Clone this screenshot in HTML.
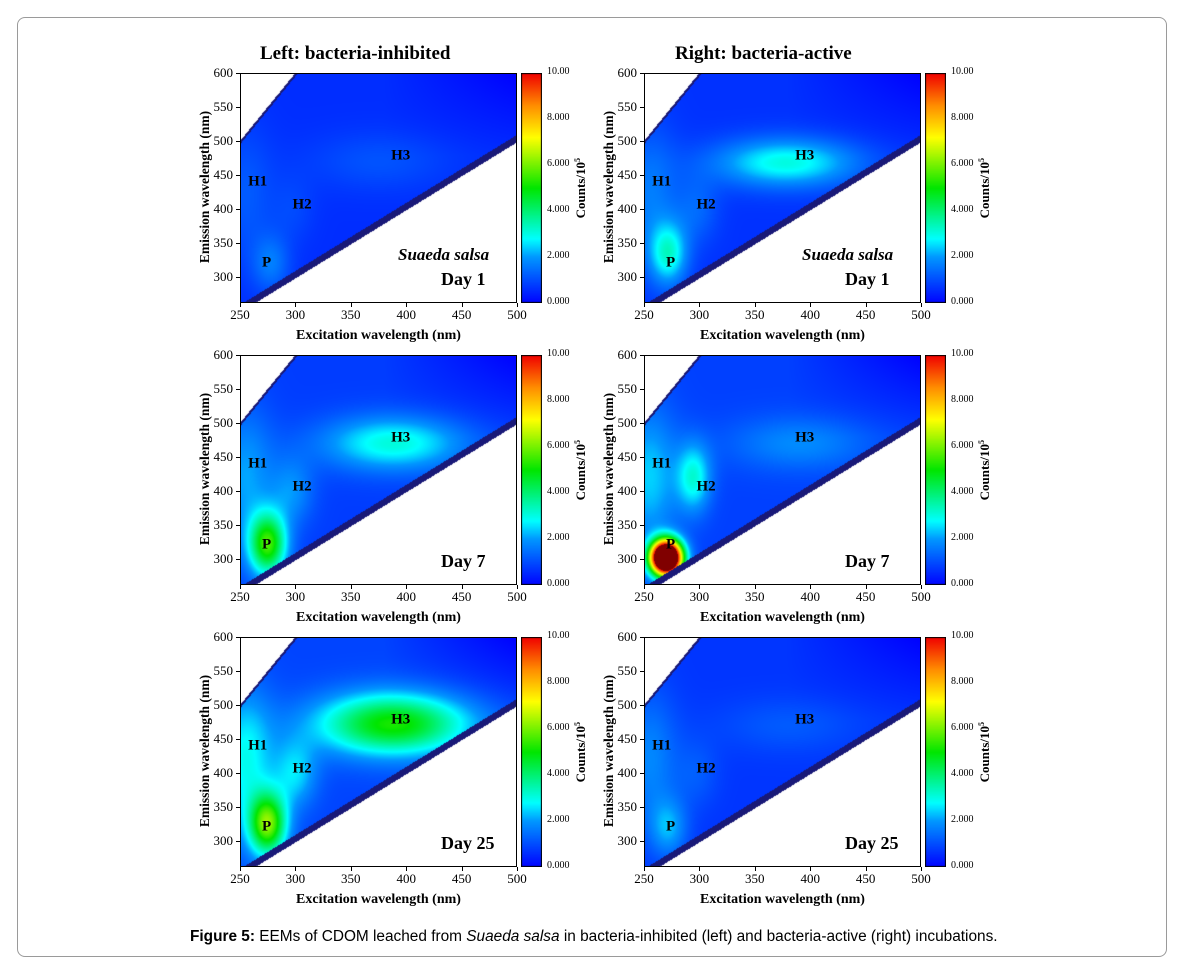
<!DOCTYPE html>
<html><head><meta charset="utf-8">
<style>
body{margin:0;background:#fff;width:1182px;height:969px;position:relative;overflow:hidden;font-family:"Liberation Serif",serif}
.frame{position:absolute;left:17px;top:17px;width:1148px;height:938px;border:1px solid #9a9a9a;border-radius:8px}
.t{position:absolute;white-space:nowrap;color:#000}
canvas{position:absolute}
</style></head><body>
<div class="frame"></div>
<div class="t" style="left:260px;top:43px;font-size:19px;font-weight:bold">Left: bacteria-inhibited</div>
<div class="t" style="left:675px;top:43px;font-size:19px;font-weight:bold">Right: bacteria-active</div>
<div class="t" style="left:190px;top:928px;font-family:'Liberation Sans',sans-serif;font-size:15.4px"><b>Figure 5:</b> EEMs of CDOM leached from <i>Suaeda salsa</i> in bacteria-inhibited (left) and bacteria-active (right) incubations.</div>
<div id="root"></div>
<script>
// Peak data per panel: [L1, R1, L7, R7, L25, R25]; peaks: P, H3, H1, H2
const panelDays = ["Day 1","Day 1","Day 7","Day 7","Day 25","Day 25"];
const baseLevel = [0.6,0.65,0.8,0.85,0.9,0.7];
const peakEx  = [[278,375,255,298],[272,378,255,298],[275,388,255,297],[270,390,255,295],[275,388,255,300],[272,380,255,298]];
const peakEm  = [[320,470,420,400],[335,468,420,400],[322,470,420,400],[302,470,420,420],[325,472,420,400],[320,470,420,400]];
const peakAmp = [[1.0,0.5,0.6,0.35],[2.4,2.4,1.0,0.7],[4.6,2.3,1.3,1.1],[16,1.0,1.6,2.2],[5.0,4.3,2.0,1.6],[1.4,0.5,1.1,0.5]];
const peakSx  = [[12,45,18,14],[12,45,18,14],[12,45,18,14],[10,45,18,11],[12,48,18,14],[12,45,18,14]];
const peakSy  = [[30,30,70,35],[32,25,70,35],[32,28,70,35],[18,28,70,35],[32,32,70,35],[30,28,70,35]];
const xTicks = [250,300,350,400,450,500];
const yTicks = [300,350,400,450,500,550,600];
const cbTicks = ["0.000","2.000","4.000","6.000","8.000","10.00"];
const labelNames = ["H1","H2","H3","P"];
const labelEx = [266,306,395,274];
const labelEm = [440,406,478,321];

const root=document.getElementById('root');
const PW=277,PH=230,X0=250,X1=500,Y0=262,Y1=600;
const panelX=[240,644], panelY=[73,355,637];
function cmap(v){
  if(v>10) return [128,0,0];
  const t=Math.max(0,v/10);
  const st=[[0,[0,0,255]],[0.2,[0,150,255]],[0.28,[0,255,255]],[0.5,[0,230,0]],[0.72,[255,255,0]],[0.86,[255,140,0]],[1,[240,0,0]]];
  for(let i=1;i<st.length;i++){if(t<=st[i][0]){const a=st[i-1],b=st[i];const f=(t-a[0])/(b[0]-a[0]);return a[1].map((c,k)=>Math.round(c+(b[1][k]-c)*f));}}
  return [240,0,0];
}
function mk(tag,cls,name,style,txt){const e=document.createElement(tag);if(cls)e.className=cls;e.setAttribute('style',style);if(txt!==undefined)e.innerHTML=txt;root.appendChild(e);return e;}
for(let p=0;p<6;p++){
  const col=p%2,row=Math.floor(p/2);
  const ox=panelX[col],oy=panelY[row];
  const sx=v=>ox+(v-X0)/(X1-X0)*PW, sy=v=>oy+PH-(v-Y0)/(Y1-Y0)*PH;
  const cv=document.createElement('canvas');cv.width=PW;cv.height=PH;cv.style.left=ox+'px';cv.style.top=oy+'px';
  
  
  root.appendChild(cv);
  const ctx=cv.getContext('2d');const img=ctx.createImageData(PW,PH);
  for(let j=0;j<PH;j++)for(let i=0;i<PW;i++){
    const ex=X0+(i+0.5)/PW*(X1-X0), em=Y1-(j+0.5)/PH*(Y1-Y0);
    let c;
    if(em<ex-2||em>2*ex) c=[255,255,255];
    else if(em<ex+9||em>2*ex-5) c=[25,25,120];
    else{
      let v=baseLevel[p]*(1-0.5*Math.max(0,(ex-380)/120)*Math.max(0,(em-480)/120)*2);
      for(let k=0;k<4;k++){const dx=(ex-peakEx[p][k])/peakSx[p][k],dy=(em-peakEm[p][k])/peakSy[p][k];v+=peakAmp[p][k]*Math.exp(-0.5*(dx*dx+dy*dy));}
      c=cmap(v);
    }
    const q=(j*PW+i)*4;img.data[q]=c[0];img.data[q+1]=c[1];img.data[q+2]=c[2];img.data[q+3]=255;
  }
  ctx.putImageData(img,0,0);
  let e=mk('div','','', `position:absolute;left:${ox}px;top:${oy}px;width:${PW}px;height:${PH}px;border:1px solid #000;box-sizing:border-box`);
  
  
  xTicks.forEach(v=>{
    const t=mk('div','t','',`left:${sx(v)-16}px;top:${oy+PH+4}px;width:32px;text-align:center;font-size:13px`,v);
    
    
    const k=mk('div','','',`position:absolute;left:${sx(v)}px;top:${oy+PH}px;width:1px;height:4px;background:#000`);
    
    
  });
  yTicks.forEach(v=>{
    const t=mk('div','t','',`left:${ox-38}px;top:${sy(v)-8}px;width:31px;text-align:right;font-size:13px`,v);
    
    
    const k=mk('div','','',`position:absolute;left:${ox-4}px;top:${sy(v)}px;width:4px;height:1px;background:#000`);
    
    
  });
  let a=mk('div','t','',`left:${ox+PW/2-100}px;top:${oy+PH+25}px;width:200px;text-align:center;font-size:14px;font-weight:bold`,'Excitation wavelength (nm)');
  
  
  a=mk('div','t','',`left:${ox-120}px;top:${oy+PH/2-9}px;width:170px;text-align:center;font-size:13.5px;font-weight:bold;transform:rotate(-90deg)`,'Emission wavelength (nm)');
  
  
  labelNames.forEach((n,k)=>{
    const l=mk('div','t','',`left:${sx(labelEx[k])}px;top:${sy(labelEm[k])}px;font-size:15px;font-weight:bold;transform:translate(-50%,-50%)`,n);
    
    
  });
  a=mk('div','t','',`left:${ox+PW-76}px;top:${oy+PH-34}px;font-size:18px;font-weight:bold`,panelDays[p]);
  
  
  if(row===0){a=mk('div','t','',`left:${ox+158}px;top:${oy+172}px;font-size:17px;font-weight:bold;font-style:italic`,'Suaeda salsa');
    
    }
  const cbx=ox+PW+4;
  const cb=document.createElement('canvas');cb.width=21;cb.height=PH;cb.style.left=cbx+'px';cb.style.top=oy+'px';
  
  
  root.appendChild(cb);
  const c2=cb.getContext('2d');
  for(let j=0;j<PH;j++){const c=cmap(10*(1-j/PH)*0.999);c2.fillStyle=`rgb(${c})`;c2.fillRect(0,j,21,1);}
  c2.strokeStyle='#000';c2.strokeRect(0.5,0.5,20,PH-1);
  cbTicks.forEach((s,k)=>{
    const t=mk('div','t','',`left:${cbx+26}px;top:${oy+PH-k*PH/5-7}px;font-size:10px`,s);
    
    
  });
  a=mk('div','t','',`left:${cbx+15}px;top:${oy+PH/2-8}px;width:90px;text-align:center;font-size:13px;font-weight:bold;transform:rotate(-90deg)`,'Counts/10<sup style="font-size:8px">5</sup>');
  
  
}
</script>
</body></html>
